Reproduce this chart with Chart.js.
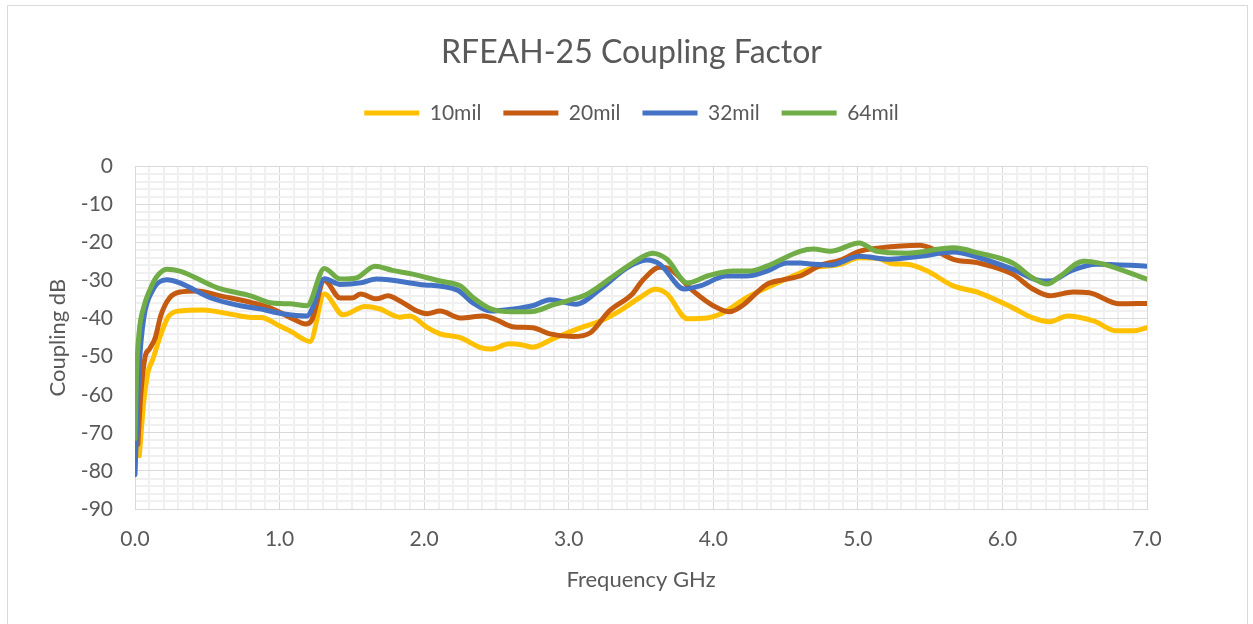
<!DOCTYPE html>
<html>
<head>
<meta charset="utf-8">
<title>RFEAH-25 Coupling Factor</title>
<script src="https://cdn.jsdelivr.net/npm/chart.js@4.4.1/dist/chart.umd.min.js"></script>
<style>
  html, body { margin: 0; padding: 0; background: #fff; }
  #wrap { position: relative; width: 1253px; height: 624px; overflow: hidden; }
  #frame { position: absolute; left: 7px; top: 5px; width: 1239px; height: 660px; border: 1px solid #d9d9d9; }
  #chart { position: absolute; left: 0; top: 0; }
</style>
</head>
<body>
<div id="wrap">
  <div id="frame"></div>
  <canvas id="chart" width="1253" height="624"></canvas>
</div>
<script>
// series data (frequency in GHz, coupling in dB)
const seriesNames = ['10mil', '20mil', '32mil', '64mil'];

const freq10 = [0.03, 0.06, 0.09, 0.12, 0.18, 0.23, 0.3, 0.47, 0.66, 0.82, 0.87, 1.0, 1.09, 1.16, 1.21, 1.31, 1.44, 1.59, 1.69, 1.83, 1.9, 2.02, 2.11, 2.25, 2.39, 2.46, 2.59, 2.68, 2.75, 2.89, 3.08, 3.22, 3.35, 3.49, 3.6, 3.68, 3.82, 3.96, 4.05, 4.23, 4.37, 4.6, 4.69, 4.88, 5.01, 5.15, 5.24, 5.34, 5.48, 5.66, 5.84, 6.07, 6.21, 6.33, 6.45, 6.63, 6.79, 6.9, 7.0];
const coup10 = [-76, -62, -54, -51, -44, -39.5, -38, -37.7, -38.8, -39.7, -39.7, -41.9, -43.6, -45.3, -46, -33.5, -39, -36.8, -37.4, -39.6, -39.3, -42.3, -44, -45, -47.6, -48, -46.6, -46.9, -47.5, -45.3, -42.4, -40.6, -38, -34.5, -32.3, -33.5, -40, -39.8, -38.8, -34.5, -31.9, -28, -26.7, -25.7, -24, -24.3, -25.6, -25.7, -27.5, -31.4, -33.2, -37.1, -39.8, -40.8, -39.3, -40.6, -43.2, -43.2, -42.4];

const freq20 = [0.02, 0.04, 0.07, 0.1, 0.14, 0.18, 0.24, 0.31, 0.43, 0.59, 0.82, 0.95, 1.09, 1.18, 1.22, 1.31, 1.42, 1.51, 1.56, 1.67, 1.75, 1.83, 1.95, 2.02, 2.11, 2.25, 2.41, 2.5, 2.61, 2.75, 2.87, 3.03, 3.15, 3.28, 3.44, 3.51, 3.63, 3.7, 3.86, 4.0, 4.11, 4.2, 4.37, 4.48, 4.6, 4.74, 4.88, 5.01, 5.15, 5.43, 5.5, 5.66, 5.84, 6.07, 6.21, 6.33, 6.49, 6.6, 6.81, 7.0];
const coup20 = [-73, -60, -50, -48, -45, -39, -34.5, -33, -32.7, -34, -35.9, -37.4, -40, -41.4, -40.6, -30, -34.6, -34.5, -33.5, -34.8, -34, -35.3, -38, -38.7, -38, -39.8, -39.3, -40.3, -42.1, -42.4, -44, -44.7, -43.7, -38, -33.5, -30, -26.5, -27, -32.7, -36.6, -38.2, -36.6, -31, -29.8, -28.8, -26, -24.6, -22.3, -21.4, -20.7, -21.4, -24.4, -25.4, -28.3, -32.2, -34, -33, -33.2, -36.1, -36];

const freq32 = [0, 0.01, 0.03, 0.06, 0.12, 0.22, 0.31, 0.52, 0.73, 0.86, 1.02, 1.19, 1.23, 1.31, 1.42, 1.56, 1.67, 1.97, 2.23, 2.34, 2.46, 2.61, 2.75, 2.87, 3.05, 3.22, 3.4, 3.54, 3.63, 3.8, 3.91, 4.09, 4.23, 4.37, 4.51, 4.6, 4.69, 4.81, 5.01, 5.22, 5.43, 5.66, 5.84, 6.07, 6.28, 6.33, 6.47, 6.65, 7.0];
const coup32 = [-81, -70, -52, -40, -32.7, -29.8, -30.6, -34.5, -36.6, -37.4, -38.7, -39.3, -37, -29.5, -31, -30.6, -29.6, -31, -32.5, -35.9, -38, -37.5, -36.6, -35, -36.2, -32.2, -26.7, -24.6, -25.7, -32.2, -31.4, -28.8, -28.8, -27.5, -25.4, -25.4, -25.7, -25.9, -23.6, -24.4, -23.6, -22.5, -24, -27, -30.1, -30.1, -27.5, -25.7, -26.2];

const freq64 = [0, 0.01, 0.03, 0.06, 0.1, 0.15, 0.22, 0.31, 0.57, 0.8, 0.95, 1.07, 1.19, 1.31, 1.42, 1.53, 1.66, 1.78, 1.92, 2.11, 2.25, 2.34, 2.46, 2.61, 2.75, 2.89, 2.99, 3.13, 3.31, 3.44, 3.58, 3.68, 3.82, 3.96, 4.14, 4.25, 4.37, 4.6, 4.69, 4.81, 5.01, 5.13, 5.34, 5.66, 5.84, 6.07, 6.21, 6.31, 6.4, 6.56, 6.67, 7.0];
const coup64 = [-71.5, -55, -43, -37, -32.7, -29, -27, -27.5, -31.9, -34, -35.9, -36.1, -36.6, -26.8, -29.6, -29.3, -26.2, -27.3, -28.3, -30.1, -31.4, -34.5, -37.4, -38.2, -38.1, -36.4, -35.3, -33.5, -28.8, -25.4, -22.8, -24.4, -30.6, -28.8, -27.5, -27.5, -26.2, -22.3, -21.7, -22.3, -20.1, -22.3, -22.8, -21.4, -22.8, -25.4, -29.3, -30.9, -28.8, -24.9, -25.4, -29.6];

// axis settings
const xMin = 0, xMax = 7, xMinorStep = 0.1;
const yMin = -90, yMax = 0, yMinorStep = 2, yMajorStep = 10;

const colors = ['#FFC000', '#C55A11', '#4472C4', '#70AD47'];
const textColor = '#595959';
const fontFamily = 'Lato, "Open Sans", sans-serif';

function toPoints(xs, ys) {
    return xs.map((x, i) => ({ x: x, y: ys[i] }));
}

const allFreq = [freq10, freq20, freq32, freq64];
const allCoup = [coup10, coup20, coup32, coup64];

const datasets = seriesNames.map((name, i) => ({
    label: name,
    data: toPoints(allFreq[i], allCoup[i]),
    borderColor: colors[i],
    backgroundColor: colors[i],
    borderWidth: 5,
    borderCapStyle: 'round',
    borderJoinStyle: 'round',
    pointRadius: 0,
    cubicInterpolationMode: 'monotone',
    fill: false,
    order: seriesNames.length - i   // later series drawn on top
}));

function isMajor(value, step) {
    const r = value / step;
    return Math.abs(r - Math.round(r)) < 1e-6;
}

// extra gap under the legend
const legendGap = {
    id: 'legendGap',
    beforeInit(chart) {
        const fit = chart.legend.fit;
        chart.legend.fit = function () {
            fit.bind(chart.legend)();
            this.height += 33;
        };
    }
};

new Chart(document.getElementById('chart').getContext('2d'), {
    type: 'line',
    data: { datasets: datasets },
    plugins: [legendGap],
    options: {
        responsive: false,
        animation: false,
        events: [],
        layout: { padding: { left: 10, right: 0, top: 0, bottom: 0 } },
        plugins: {
            title: {
                display: true,
                text: 'RFEAH-25 Coupling Factor',
                color: textColor,
                font: { family: fontFamily, size: 32, weight: 'normal' },
                padding: { top: 33, bottom: 9 }
            },
            legend: {
                display: true,
                position: 'top',
                labels: {
                    color: textColor,
                    font: { family: fontFamily, size: 21 },
                    usePointStyle: true,
                    pointStyle: 'line',
                    pointStyleWidth: 55,
                    padding: 22,
                    sort: (a, b) => a.datasetIndex - b.datasetIndex
                }
            },
            tooltip: { enabled: false }
        },
        scales: {
            x: {
                type: 'linear',
                min: xMin,
                max: xMax,
                afterFit: (s) => { s.height = 115; },
                ticks: {
                    stepSize: xMinorStep,
                    autoSkip: false,
                    maxRotation: 0,
                    padding: 18,
                    color: textColor,
                    font: { family: fontFamily, size: 21 },
                    callback: (v) => isMajor(v, 1) ? v.toFixed(1) : ''
                },
                grid: {
                    drawTicks: false,
                    color: (c) => isMajor(c.tick.value, 1) ? '#d9d9d9' : '#f0f0f0',
                    lineWidth: (c) => isMajor(c.tick.value, 1) ? 1 : 2
                },
                border: { color: '#d9d9d9' },
                title: {
                    display: true,
                    text: 'Frequency GHz',
                    color: textColor,
                    font: { family: fontFamily, size: 22 },
                    padding: { top: 0, bottom: 31 }
                }
            },
            y: {
                type: 'linear',
                min: yMin,
                max: yMax,
                afterFit: (s) => { s.width = 125; },
                ticks: {
                    stepSize: yMinorStep,
                    autoSkip: false,
                    padding: 22,
                    color: textColor,
                    font: { family: fontFamily, size: 21 },
                    callback: (v) => isMajor(v, yMajorStep) ? v : ''
                },
                grid: {
                    drawTicks: false,
                    color: (c) => isMajor(c.tick.value, yMajorStep) ? '#d9d9d9' : '#f0f0f0',
                    lineWidth: (c) => isMajor(c.tick.value, yMajorStep) ? 1 : 2
                },
                border: { color: '#d9d9d9' },
                title: {
                    display: true,
                    text: 'Coupling dB',
                    color: textColor,
                    font: { family: fontFamily, size: 22 },
                    padding: { top: 35, bottom: 0 }
                }
            },
            // empty axis that only reserves the right margin
            yRight: {
                type: 'linear',
                position: 'right',
                display: true,
                afterFit: (s) => { s.width = 106; },
                ticks: { display: false },
                grid: { display: false, drawOnChartArea: false },
                border: { display: false }
            }
        }
    }
});
</script>
</body>
</html>
